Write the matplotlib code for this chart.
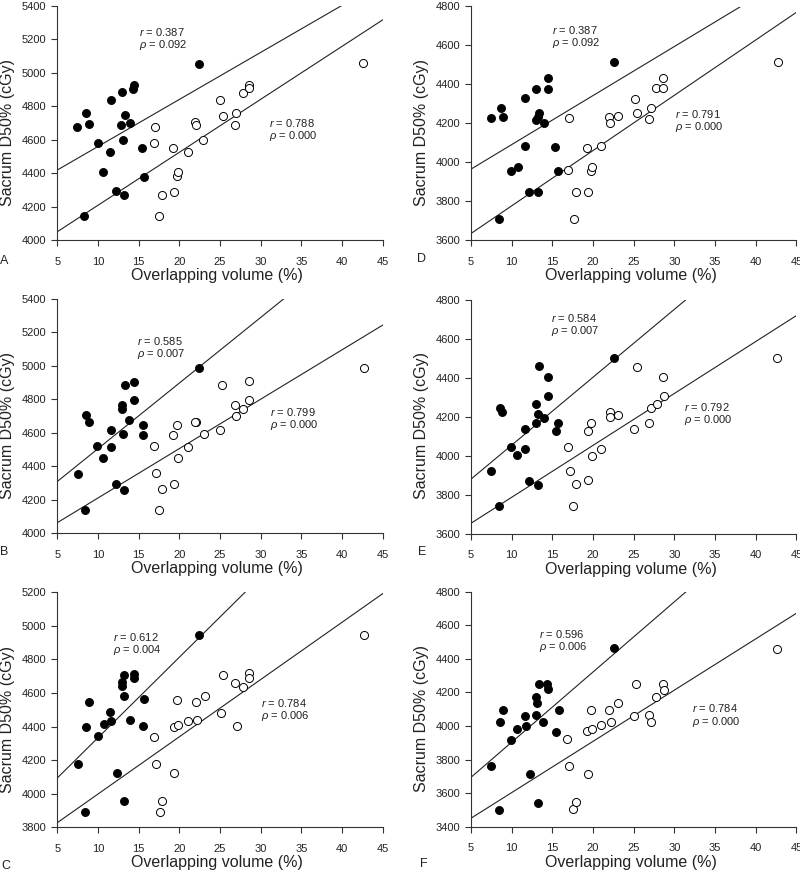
import numpy as np
import matplotlib
matplotlib.use("Agg")
import matplotlib.pyplot as plt

plt.rcParams['font.family'] = ['Liberation Sans', 'DejaVu Sans']
plt.rcParams['mathtext.fontset'] = 'custom'
plt.rcParams['mathtext.rm'] = 'Liberation Sans'
plt.rcParams['mathtext.it'] = 'Liberation Sans:italic'

# ---------------- data ----------------
# Panel A
A_filled_x = [7.42, 8.57, 8.89, 9.96, 10.66, 11.48, 11.64, 12.21, 12.91, 12.83,
              13.11, 13.32, 13.16, 13.93, 14.43, 14.34, 15.37, 15.66, 8.32, 22.42]
A_filled_y = [4674, 4760, 4696, 4578, 4409, 4524, 4839, 4291, 4883, 4690,
              4598, 4746, 4269, 4698, 4925, 4903, 4550, 4379, 4146, 5055]
A_open_x = [17.05, 16.84, 17.5, 17.83, 19.26, 19.3, 19.67, 19.84, 21.02, 21.97,
            22.0, 22.95, 25.04, 25.33, 26.84, 27.0, 27.79, 28.61, 28.52, 42.62]
A_open_y = [4676, 4582, 4144, 4269, 4548, 4289, 4381, 4407, 4524, 4704,
            4690, 4598, 4837, 4744, 4690, 4762, 4881, 4927, 4907, 5057]

# Panel D
D_filled_x = [7.46, 8.65, 8.98, 9.92, 10.78, 11.65, 11.65, 12.18, 12.96, 12.96,
              13.37, 13.2, 13.29, 13.98, 14.44, 14.44, 15.38, 15.75, 8.41, 22.52]
D_filled_y = [4229, 4279, 4231, 3955, 3975, 4330, 4083, 3845, 4376, 4217,
              4253, 4234, 3845, 4200, 4435, 4376, 4076, 3953, 3708, 4515]
D_open_x = [17.1, 16.94, 17.6, 17.92, 19.32, 19.4, 19.77, 19.89, 21.0, 21.94,
            22.1, 23.09, 25.14, 25.39, 26.9, 27.07, 27.77, 28.59, 28.63, 42.74]
D_open_y = [4229, 3958, 3708, 3849, 4075, 3845, 3953, 3977, 4085, 4231,
            4200, 4239, 4325, 4255, 4220, 4280, 4380, 4380, 4431, 4514]

# Panel B
B_filled_x = [7.5, 8.52, 8.85, 9.92, 10.66, 11.6, 11.56, 12.21, 12.95, 12.95,
              13.11, 13.36, 13.16, 13.85, 14.43, 14.47, 15.57, 15.49, 8.36, 22.42]
B_filled_y = [4355, 4708, 4664, 4524, 4447, 4616, 4516, 4293, 4768, 4740,
              4594, 4887, 4261, 4676, 4905, 4794, 4646, 4590, 4138, 4987]
B_open_x = [16.89, 17.09, 17.54, 17.87, 19.26, 19.71, 19.34, 19.8, 21.02, 22.05,
            21.97, 23.07, 25.0, 25.29, 26.84, 27.0, 27.87, 28.52, 28.61, 42.66]
B_open_y = [4524, 4361, 4140, 4263, 4590, 4648, 4295, 4447, 4514, 4668,
            4664, 4594, 4616, 4889, 4766, 4700, 4742, 4909, 4794, 4987]

# Panel E
E_filled_x = [7.42, 8.53, 8.86, 9.92, 10.7, 11.65, 11.6, 12.18, 13.04, 13.0,
              13.2, 13.41, 13.29, 13.98, 14.44, 14.52, 15.75, 15.46, 8.41, 22.52]
E_filled_y = [3921, 4243, 4225, 4044, 4002, 4137, 4032, 3872, 4265, 4167,
              4214, 4458, 3850, 4195, 4405, 4306, 4169, 4128, 3744, 4501]
E_open_x = [16.98, 17.14, 17.55, 17.92, 19.36, 19.77, 19.4, 19.89, 21.04, 22.1,
            22.1, 23.09, 25.06, 25.43, 26.87, 27.07, 27.85, 28.63, 28.71, 42.66]
E_open_y = [4044, 3923, 3740, 3853, 4128, 4166, 3873, 4000, 4032, 4225,
            4198, 4210, 4137, 4456, 4169, 4246, 4263, 4405, 4306, 4502]

# Panel C
C_filled_x = [7.54, 8.57, 8.89, 10.0, 10.74, 11.52, 11.6, 12.3, 12.91, 12.95,
              13.2, 13.2, 13.16, 13.93, 14.43, 14.43, 15.49, 15.7, 8.36, 22.46]
C_filled_y = [4177, 4400, 4549, 4342, 4416, 4487, 4436, 4126, 4668, 4642,
              4708, 4580, 3957, 4437, 4716, 4690, 4404, 4563, 3891, 4946]
C_open_x = [16.89, 17.09, 17.58, 17.91, 19.3, 19.71, 19.34, 19.88, 21.02, 22.0,
            22.13, 23.11, 25.16, 25.37, 26.89, 27.05, 27.83, 28.61, 28.61, 42.75]
C_open_y = [4340, 4179, 3891, 3955, 4124, 4561, 4400, 4412, 4434, 4549,
            4441, 4584, 4479, 4705, 4662, 4404, 4638, 4717, 4690, 4946]

# Panel F
F_filled_x = [7.42, 8.61, 8.9, 9.88, 10.7, 11.69, 11.73, 12.26, 12.96, 12.96,
              13.16, 13.33, 13.2, 13.9, 14.4, 14.44, 15.79, 15.5, 8.4, 22.52]
F_filled_y = [3761, 4024, 4095, 3918, 3984, 4059, 4002, 3716, 4173, 4063,
              4135, 4248, 3543, 4026, 4252, 4218, 4095, 3962, 3497, 4462]
F_open_x = [16.86, 17.06, 17.51, 17.96, 19.36, 19.77, 19.28, 19.89, 21.0, 21.98,
            22.15, 23.09, 25.06, 25.31, 26.87, 27.11, 27.77, 28.59, 28.71, 42.62]
F_open_y = [3924, 3761, 3505, 3547, 3712, 4095, 3968, 3984, 4004, 4093,
            4024, 4135, 4059, 4248, 4065, 4024, 4171, 4250, 4212, 4461]

# statistics text
stats_upper = {'A': ('0.387', '0.092'), 'D': ('0.387', '0.092'),
               'B': ('0.585', '0.007'), 'E': ('0.584', '0.007'),
               'C': ('0.612', '0.004'), 'F': ('0.596', '0.006')}
stats_lower = {'A': ('0.788', '0.000'), 'D': ('0.791', '0.000'),
               'B': ('0.799', '0.000'), 'E': ('0.792', '0.000'),
               'C': ('0.784', '0.006'), 'F': ('0.784', '0.000')}

y_ranges = {'A': (4000, 5400), 'D': (3600, 4800), 'B': (4000, 5400),
            'E': (3600, 4800), 'C': (3800, 5200), 'F': (3400, 4800)}

x_ticks = [5, 10, 15, 20, 25, 30, 35, 40, 45]

data = {
    'A': (A_filled_x, A_filled_y, A_open_x, A_open_y),
    'D': (D_filled_x, D_filled_y, D_open_x, D_open_y),
    'B': (B_filled_x, B_filled_y, B_open_x, B_open_y),
    'E': (E_filled_x, E_filled_y, E_open_x, E_open_y),
    'C': (C_filled_x, C_filled_y, C_open_x, C_open_y),
    'F': (F_filled_x, F_filled_y, F_open_x, F_open_y),
}

# ---------------- layout ----------------
W, H = 800, 873
fig = plt.figure(figsize=(W / 100, H / 100), dpi=100)

col_left = {'A': 57.3, 'B': 57.3, 'C': 57.3, 'D': 471, 'E': 471, 'F': 471}
row_tb = {'A': (6, 240), 'D': (6.5, 240), 'B': (299, 533.3), 'E': (299.5, 533.7),
          'C': (592.3, 827.3), 'F': (591.7, 826.7)}
ax_w = 325.4

# annotation positions (data coords: left edge, line centres)
ann_upper = {'A': (15.1, 5242, 5168), 'D': (14.93, 4680, 4612),
             'B': (14.75, 5149, 5071), 'E': (14.85, 4704, 4638),
             'C': (11.89, 4936, 4857), 'F': (13.37, 4546, 4472)}
ann_lower = {'A': (31.07, 4702, 4622), 'D': (30.1, 4248, 4180),
             'B': (31.2, 4726, 4648), 'E': (31.2, 4251, 4183),
             'C': (30.1, 4543, 4462), 'F': (32.2, 4105, 4026)}
letter_pos = {'A': (4, 261), 'D': (422, 259), 'B': (4, 552), 'E': (422, 552),
              'C': (6, 866), 'F': (424, 864)}

for key in ['A', 'D', 'B', 'E', 'C', 'F']:
    top, bottom = row_tb[key]
    left = col_left[key]
    ax = fig.add_axes([left / W, 1 - bottom / H, ax_w / W, (bottom - top) / H])
    fx, fy, ox, oy = [np.asarray(v, float) for v in data[key]]
    ylo, yhi = y_ranges[key]

    # regression lines
    xx = np.array([5, 45])
    for xs, ys in ((fx, fy), (ox, oy)):
        k, b = np.polyfit(xs, ys, 1)
        ax.plot(xx, k * xx + b, color='#222222', lw=0.8, zorder=1)

    ax.plot(fx, fy, 'o', ms=5.8, mfc='black', mec='black', mew=0.6, zorder=3)
    ax.plot(ox, oy, 'o', ms=5.8, mfc='white', mec='black', mew=0.7, zorder=3)

    ax.set_xlim(5, 45)
    ax.set_ylim(ylo, yhi)
    ax.set_xticks(x_ticks)
    ax.set_yticks(np.arange(ylo, yhi + 1, 200))
    for s in ['top', 'right']:
        ax.spines[s].set_visible(False)
    for s in ['left', 'bottom']:
        ax.spines[s].set_linewidth(0.8)
        ax.spines[s].set_color('#333333')
    ax.tick_params(axis='both', direction='out', length=4, width=0.8,
                   color='#333333', labelsize=8, labelcolor='#222222')
    ax.tick_params(axis='x', pad=8)
    ax.tick_params(axis='y', pad=4)

    ax.set_xlabel('Overlapping volume (%)', fontsize=11.5, color='#222222')
    ax.xaxis.set_label_coords(0.49, -0.12)
    ax.set_ylabel('Sacrum D50% (cGy)', fontsize=11.5, color='#222222')
    ax.yaxis.set_label_coords(-0.13, 0.46)

    ux, uy1, uy2 = ann_upper[key]
    lx, ly1, ly2 = ann_lower[key]
    ru, pu = stats_upper[key]
    rl, pl = stats_lower[key]
    ax.text(ux, uy1, '$r$ = ' + ru, fontsize=8, va='center', ha='left', color='#222222')
    ax.text(ux, uy2, '$\\rho$ = ' + pu, fontsize=8, va='center', ha='left', color='#222222')
    ax.text(lx, ly1, '$r$ = ' + rl, fontsize=8, va='center', ha='left', color='#222222')
    ax.text(lx, ly2, '$\\rho$ = ' + pl, fontsize=8, va='center', ha='left', color='#222222')

    px, py = letter_pos[key]
    fig.text(px / W, 1 - py / H, key, fontsize=9, ha='center', va='center', color='#222222')

fig.savefig('out.png', dpi=100)
